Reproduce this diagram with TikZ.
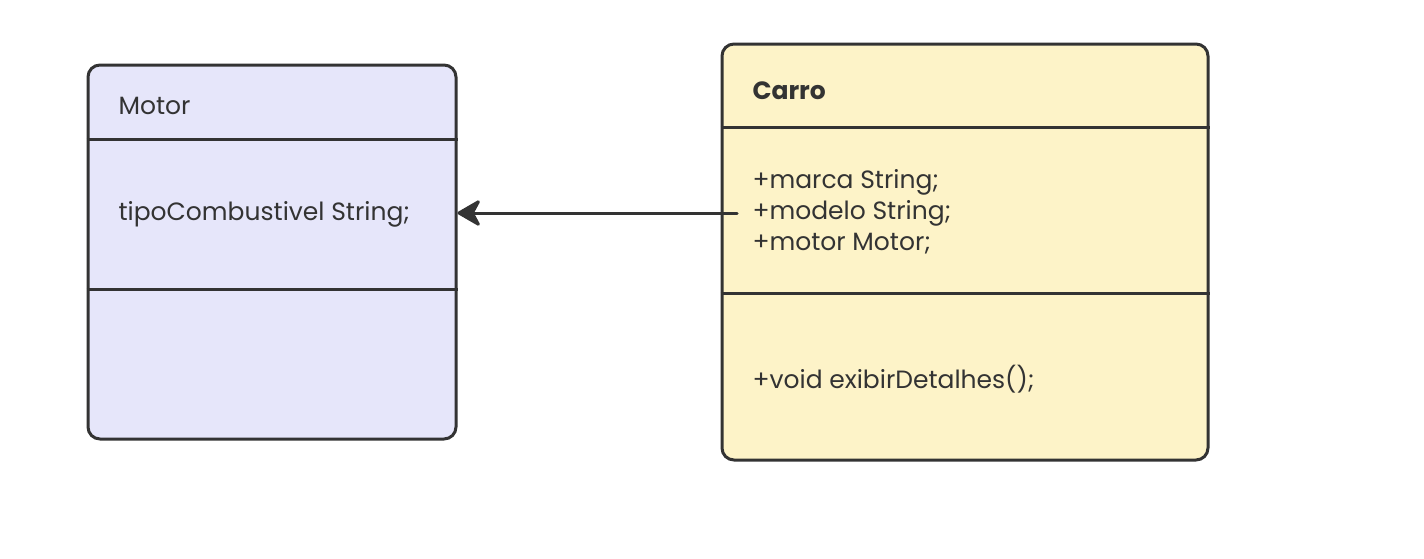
\documentclass[tikz,border=0pt]{standalone}
\usepackage{fontspec}
\setmainfont{Poppins}
\usepackage{tikz}
\usetikzlibrary{arrows.meta}
\definecolor{lav}{RGB}{230, 230, 250}
\definecolor{cream}{RGB}{253, 243, 200}
\definecolor{ink}{RGB}{51, 51, 51}

\begin{document}
\begin{tikzpicture}[x=1pt, y=-1pt, line width=3pt,
    classbox/.style={draw=ink, rounded corners=12pt, inner sep=0pt},
    label/.style={anchor=west, inner sep=0pt, text=ink,
      font=\fontsize{25}{31}\selectfont}]
  \useasboundingbox (0, 0) rectangle (1424, 558);

  % Motor
  \node[classbox, fill=lav, minimum width=368pt, minimum height=374pt]
    (motor) at (272, 252) {};
  \draw[ink] (motor.west |- 0, 139) -- (motor.east |- 0, 139);
  \draw[ink] (motor.west |- 0, 289) -- (motor.east |- 0, 289);
  \node[label] (motorname) at (117, 106) {Motor};
  \node[label] (motorattr) at (117, 214) {tipoCombustivel String;};

  % Carro
  \node[classbox, fill=cream, minimum width=486pt, minimum height=416pt]
    (carro) at (965, 252) {};
  \draw[ink] (carro.west |- 0, 127) -- (carro.east |- 0, 127);
  \draw[ink] (carro.west |- 0, 293) -- (carro.east |- 0, 293);
  \node[label, font=\fontsize{25}{31}\selectfont\bfseries] (carroname) at (751, 91) {Carro};
  \node[label, align=left] (carroattr) at (751, 212)
    {+marca String;\\+modelo String;\\+motor Motor;};
  \node[label] (carrometh) at (751, 379) {+void exibirDetalhes();};

  % associação
  \coordinate (assoc) at (737, 213);
  \draw[ink, line cap=round,
    -{Stealth[length=26pt, width=30pt, inset=8pt, round]}]
    (assoc) -- (motor.east |- assoc);
\end{tikzpicture}
\end{document}
